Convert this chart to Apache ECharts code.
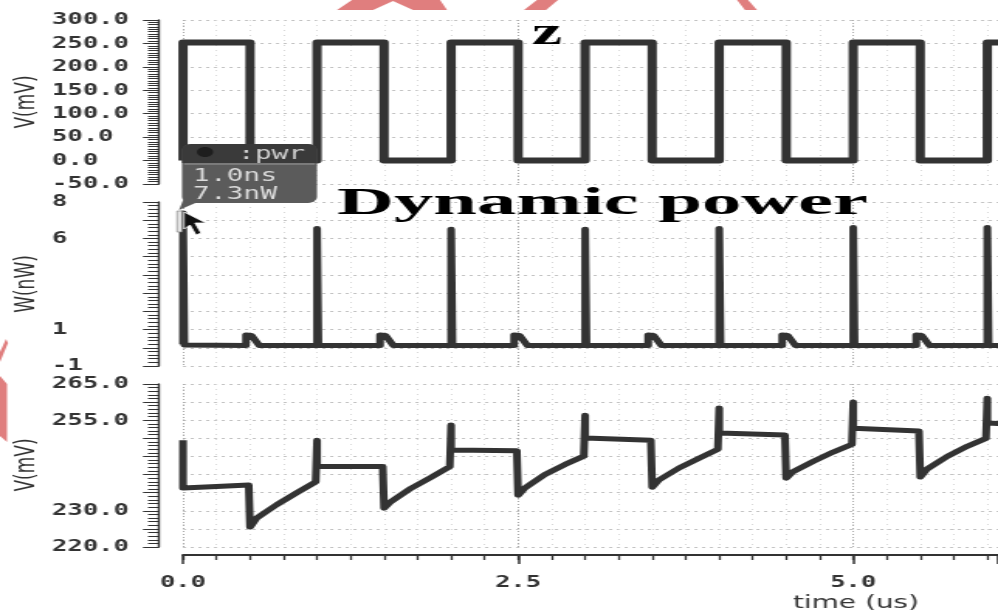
<!DOCTYPE html>
<html><head><meta charset="utf-8">
<script src="https://cdn.jsdelivr.net/npm/echarts@6.0.0/dist/echarts.min.js"></script>
<style>
html,body{margin:0;padding:0;background:#fff;overflow:hidden;width:998px;height:612px}
#chart{position:absolute;left:0;top:0;width:644px;height:612px;transform:scaleX(1.549689);transform-origin:0 0}
</style></head><body><div id="chart"></div>
<script>
// ---- data ----
const xLabels = [0, 2.5, 5];
const topLabels = [300, 250, 200, 150, 100, 50, 0, -50];
const midLabels = [8, 6, 1, -1];
const botLabels = [265, 255, 230, 220];
const axisNames = ['V(mV)', 'W(nW)', 'V(mV)'];

// z (mV)
const zTime = [0, 0, 0.5, 0.5, 1, 1, 1.5, 1.5, 2, 2, 2.5, 2.5, 3, 3, 3.5, 3.5, 4, 4, 4.5, 4.5, 5, 5, 5.5, 5.5, 6, 6, 6.1];
const zVal  = [0, 252, 252, 0, 0, 252, 252, 0, 0, 252, 252, 0, 0, 252, 252, 0, 0, 252, 252, 0, 0, 252, 252, 0, 0, 252, 252];

// pwr (nW)
const pTime = [0, 0, 0.01, 0.47, 0.47, 0.51, 0.57,
               1, 1, 1.01, 1.47, 1.47, 1.51, 1.57,
               2, 2, 2.01, 2.47, 2.47, 2.51, 2.57,
               3, 3, 3.01, 3.47, 3.47, 3.51, 3.57,
               4, 4, 4.01, 4.47, 4.47, 4.51, 4.57,
               5, 5, 5.01, 5.47, 5.47, 5.51, 5.57,
               6, 6, 6.01, 6.1];
const pVal  = [0.2, 7.4, 0.15, 0.12, 0.7, 0.68, 0.12,
               0.12, 6.55, 0.12, 0.12, 0.7, 0.68, 0.12,
               0.12, 6.5, 0.12, 0.12, 0.7, 0.68, 0.12,
               0.12, 6.5, 0.12, 0.12, 0.7, 0.68, 0.12,
               0.12, 6.55, 0.12, 0.12, 0.7, 0.68, 0.12,
               0.12, 6.6, 0.12, 0.12, 0.7, 0.68, 0.12,
               0.12, 6.6, 0.12, 0.12];

// V (mV) bottom
const vTime = [0, 0, 0.25, 0.49, 0.5, 0.55, 0.7, 0.85, 0.99,
               1, 1, 1.49, 1.5, 1.55, 1.7, 1.85, 1.99,
               2, 2, 2.49, 2.5, 2.55, 2.7, 2.85, 2.99,
               3, 3, 3.49, 3.5, 3.55, 3.7, 3.85, 3.99,
               4, 4, 4.49, 4.5, 4.55, 4.7, 4.85, 4.99,
               5, 5, 5.49, 5.5, 5.55, 5.7, 5.85, 5.99,
               6, 6, 6.1];
const vVal  = [249.5, 236.3, 236.7, 237.1, 225.5, 228, 231.7, 235, 238,
               249.5, 242.2, 242.2, 230.7, 232.5, 236.2, 239.2, 242.2,
               253.7, 246.8, 246.6, 234.3, 236.3, 240, 242.8, 245.1,
               256.4, 250.1, 249.5, 236.5, 238.5, 241.8, 244.5, 247,
               258.4, 251.5, 250.9, 239, 240.8, 243.6, 246.2, 248.3,
               260, 252.8, 252, 239.3, 241.5, 245, 247.8, 250,
               261.1, 254.2, 254.1];

// ---- layout helpers (page is drawn 644 wide and stretched to 998) ----
const S = 998 / 644;
const X = v => v / S;
const pts = a => a.map(p => [p[0] / S, p[1]]);
const X_MAX = 6.08;
const gridLeft = X(183);
const yOffset = X(183) - X(159);
const labelMargin = X(159) - X(52);

const labelFont = {fontFamily: '"DejaVu Sans Mono", monospace', fontWeight: 'bold', fontSize: 16.5, color: '#333'};
const pair = (t, v) => t.map((x, i) => [x, v[i]]);

function yAx(gi, min, max, interval, minorSplit, labels, fmt) {
  return {
    type: 'value', gridIndex: gi, min, max, interval, offset: yOffset, position: 'left',
    axisLine: {show: true, onZero: false, lineStyle: {color: '#333', width: 1.4}},
    axisTick: {show: true, length: X(16), lineStyle: {color: '#333', width: 1}},
    minorTick: {show: true, splitNumber: minorSplit, length: X(11), lineStyle: {color: '#333', width: 1}},
    axisLabel: Object.assign({show: true, align: 'left', margin: labelMargin,
      formatter: v => labels.indexOf(v) >= 0 ? fmt(v) : ''}, labelFont),
    splitLine: {show: true, lineStyle: {color: '#c2c2c2', width: 1, type: [2, 3]}},
    minorSplitLine: {show: false}
  };
}
function xMinor(gi, showAxis) {
  return {
    type: 'value', gridIndex: gi, min: 0, max: X_MAX, interval: 0.25, position: 'bottom', offset: 8,
    axisLine: {show: showAxis, onZero: false, lineStyle: {color: '#333', width: 2}},
    axisTick: {show: showAxis, length: 5, lineStyle: {color: '#333', width: 1.3}},
    axisLabel: {show: false},
    splitLine: {show: true, lineStyle: {color: '#d8d8d8', width: 1, type: [1, 4]}}
  };
}
function xMajor(gi, showAxis) {
  return {
    type: 'value', gridIndex: gi, min: 0, max: X_MAX, interval: 2.5, position: 'bottom', offset: 8,
    axisLine: {show: false, onZero: false},
    axisTick: {show: showAxis, length: 9, lineStyle: {color: '#333', width: 1.5}},
    axisLabel: Object.assign({show: showAxis, margin: 19,
      formatter: v => xLabels.some(l => Math.abs(l - v) < 1e-9) ? v.toFixed(1) : ''}, labelFont),
    splitLine: {show: true, lineStyle: {color: '#a8a8a8', width: 1, type: [1, 2]}}
  };
}
function lineSeries(xi, yi, data, w) {
  return {type: 'line', xAxisIndex: xi, yAxisIndex: yi, data, showSymbol: false, symbol: 'none',
    silent: true, z: 3, lineStyle: {color: '#333', width: w, join: 'round'}};
}

const pink = '#e07e7e';
const txt = (x, y, text, font, fill, align, extra) => Object.assign({
  type: 'text', x: X(x), y: y, z: 100, silent: true,
  style: {text, font, fill, align, textAlign: align, verticalAlign: 'middle', textVerticalAlign: 'middle'}
}, extra || {});

const chart = echarts.init(document.getElementById('chart'), null, {renderer: 'canvas'});
chart.setOption({
  animation: false,
  backgroundColor: '#fff',
  grid: [
    {left: gridLeft, right: 0, top: 20, height: 164, outerBoundsMode: 'none'},
    {left: gridLeft, right: 0, top: 202, height: 164, outerBoundsMode: 'none'},
    {left: gridLeft, right: 0, top: 384, height: 163, outerBoundsMode: 'none'}
  ],
  xAxis: [xMinor(0, false), xMinor(1, false), xMinor(2, true), xMajor(0, false), xMajor(1, false), xMajor(2, true)],
  yAxis: [
    yAx(0, -50, 300, 50, 10, topLabels, v => v.toFixed(1)),
    yAx(1, -1, 8, 1, 5, midLabels, v => String(v)),
    yAx(2, 220, 265, 5, 5, botLabels, v => v.toFixed(1))
  ],
  series: [
    lineSeries(0, 0, pair(zTime, zVal), 6),
    lineSeries(1, 1, pair(pTime, pVal), 5),
    lineSeries(2, 2, pair(vTime, vVal), 5)
  ],
  graphic: [
    // background watermark pieces
    {type: 'polygon', silent: true, z: 1, shape: {points: pts([[337,10],[352,0],[440,0],[447,10],[413,10],[393,1],[373,10]])}, style: {fill: pink}},
    {type: 'polygon', silent: true, z: 1, shape: {points: pts([[524,10],[546,10],[558,0],[537,0]])}, style: {fill: pink}},
    {type: 'polygon', silent: true, z: 1, shape: {points: pts([[737,0],[748,0],[757,10],[745,10]])}, style: {fill: pink}},
    {type: 'polygon', silent: true, z: 1, shape: {points: pts([[0,376],[7,384],[7,442],[0,436]])}, style: {fill: pink}},
    {type: 'polygon', silent: true, z: 1, shape: {points: pts([[0,352],[6,339],[8,343],[0,362]])}, style: {fill: pink}},
    // y axis titles
    txt(27, 102, axisNames[0], '17px "DejaVu Sans"', '#333', 'center', {rotation: Math.PI / 2}),
    txt(27, 284, axisNames[1], '17px "DejaVu Sans"', '#333', 'center', {rotation: Math.PI / 2}),
    txt(27, 465, axisNames[2], '17px "DejaVu Sans"', '#333', 'center', {rotation: Math.PI / 2}),
    // marker tooltip
    {type: 'polygon', silent: true, z: 90, shape: {points: pts([[184,198],[179,210],[200,201]])}, style: {fill: '#5b5b5b'}},
    {type: 'rect', silent: true, z: 90, shape: {x: X(182), y: 144, width: X(317) - X(182), height: 59, r: 6}, style: {fill: '#5b5b5b'}},
    {type: 'rect', silent: true, z: 91, shape: {x: X(182), y: 144, width: X(317) - X(182), height: 19, r: [6, 6, 0, 0]}, style: {fill: '#3a3a3a'}},
    {type: 'line', silent: true, z: 92, shape: {x1: X(184), y1: 164, x2: X(315), y2: 164}, style: {stroke: '#9a9a9a', lineWidth: 1}},
    {type: 'ellipse', silent: true, z: 92, shape: {cx: X(205), cy: 152, rx: 5.2, ry: 5}, style: {fill: '#1e1e1e'}},
    txt(238, 154, ':pwr', '18px "DejaVu Sans Mono"', '#d0d0d0', 'left'),
    txt(193, 176, '1.0ns', '18px "DejaVu Sans Mono"', '#dcdcdc', 'left'),
    txt(193, 194, '7.3nW', '18px "DejaVu Sans Mono"', '#dcdcdc', 'left'),
    // cursor
    {type: 'rect', silent: true, z: 95, shape: {x: X(177), y: 211, width: X(182) - X(177), height: 21}, style: {fill: '#e6e6e6', stroke: '#777', lineWidth: 0.6}},
    {type: 'polygon', silent: true, z: 96, shape: {points: pts([[184,212],[184,229],[190,225],[196,235],[201,233],[195,223],[206,223]])}, style: {fill: '#111', stroke: '#fff', lineWidth: 0.8}},
    // annotations
    txt(547, 34, 'z', 'bold 38px "Liberation Serif"', '#000', 'center', {scaleX: 1.15}),
    txt(337, 204, 'Dynamic power', 'bold 38px "Liberation Serif"', '#000', 'left', {scaleX: 1.336}),
    txt(856, 603, 'time (us)', '18px "DejaVu Sans"', '#333', 'center')
  ]
});
</script>
</body></html>
